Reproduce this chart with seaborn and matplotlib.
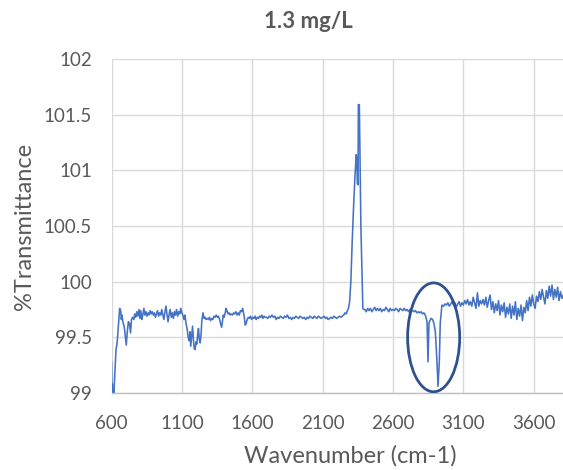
import matplotlib
matplotlib.use("Agg")
import matplotlib.pyplot as plt
from matplotlib.patches import Ellipse
from matplotlib.ticker import FuncFormatter
import seaborn as sns
import pandas as pd

title = "1.3 mg/L"
x_label = "Wavenumber (cm-1)"
y_label = "%Transmittance"
x_ticks = [600, 1100, 1600, 2100, 2600, 3100, 3600]
y_ticks = [99, 99.5, 100, 100.5, 101, 101.5, 102]

wavenumber = [
    600, 603, 606, 609, 613, 617, 625, 632, 640, 650, 658, 665, 670, 675, 680, 690, 697, 705, 712, 720,
    728, 735, 742, 750, 758, 765, 772, 780, 787, 795, 802, 808, 815, 822, 830, 837, 845, 852, 860, 867,
    875, 882, 890, 897, 905, 912, 920, 927, 935, 942, 950, 957, 965, 972, 980, 987, 995, 1002, 1010, 1017,
    1025, 1032, 1040, 1047, 1055, 1062, 1070, 1077, 1085, 1092, 1100, 1107, 1115, 1122, 1130, 1137, 1145, 1152, 1158, 1163,
    1170, 1176, 1182, 1188, 1194, 1200, 1206, 1212, 1218, 1224, 1230, 1236, 1242, 1250, 1258, 1265, 1272, 1280, 1288, 1296,
    1304, 1312, 1320, 1328, 1336, 1344, 1352, 1360, 1368, 1376, 1382, 1388, 1394, 1400, 1408, 1414, 1420, 1428, 1436, 1444,
    1452, 1460, 1468, 1476, 1484, 1492, 1500, 1508, 1516, 1524, 1532, 1538, 1544, 1550, 1556, 1564, 1572, 1580, 1588, 1596,
    1604, 1612, 1620, 1628, 1636, 1644, 1652, 1660, 1668, 1676, 1684, 1692, 1700, 1710, 1720, 1730, 1740, 1750, 1760, 1770,
    1780, 1790, 1800, 1810, 1820, 1830, 1840, 1850, 1860, 1870, 1880, 1890, 1900, 1910, 1920, 1930, 1940, 1950, 1960, 1970,
    1980, 1990, 2000, 2010, 2020, 2030, 2040, 2050, 2060, 2070, 2080, 2090, 2100, 2110, 2120, 2130, 2140, 2150, 2160, 2170,
    2180, 2190, 2200, 2210, 2220, 2230, 2240, 2250, 2260, 2268, 2276, 2284, 2292, 2301, 2310, 2320, 2330, 2339, 2343, 2347,
    2352, 2354, 2361, 2372, 2386, 2393, 2400, 2410, 2420, 2430, 2440, 2450, 2460, 2470, 2480, 2490, 2500, 2510, 2520, 2530,
    2540, 2550, 2560, 2570, 2580, 2590, 2600, 2610, 2620, 2630, 2640, 2650, 2660, 2670, 2680, 2690, 2700, 2710, 2720, 2730,
    2740, 2750, 2760, 2770, 2780, 2790, 2800, 2810, 2820, 2830, 2842, 2849, 2856, 2870, 2882, 2892, 2901, 2913, 2920, 2929,
    2936, 2948, 2960, 2970, 2980, 2990, 3000, 3010, 3020, 3030, 3040, 3050, 3060, 3070, 3080, 3090, 3100, 3110, 3120, 3130,
    3140, 3150, 3160, 3170, 3180, 3190, 3200, 3210, 3220, 3230, 3240, 3250, 3260, 3270, 3280, 3290, 3300, 3310, 3320, 3330,
    3340, 3350, 3360, 3370, 3380, 3390, 3400, 3410, 3420, 3430, 3440, 3450, 3460, 3470, 3480, 3490, 3500, 3510, 3520, 3530,
    3540, 3550, 3560, 3570, 3580, 3590, 3600, 3610, 3620, 3630, 3640, 3650, 3660, 3670, 3680, 3690, 3700, 3710, 3720, 3730,
    3740, 3750, 3760, 3770, 3780, 3790, 3800, 3810, 3820,
]

transmittance = [
    99.28, 99.02, 99.08, 99.00, 99.03, 99.00, 99.20, 99.39, 99.45, 99.62, 99.76, 99.74, 99.66, 99.70, 99.64, 99.60, 99.52, 99.43, 99.55, 99.64,
    99.62, 99.54, 99.66, 99.68, 99.66, 99.71, 99.68, 99.73, 99.69, 99.75, 99.67, 99.74, 99.66, 99.70, 99.76, 99.70, 99.73, 99.69, 99.72, 99.70,
    99.74, 99.71, 99.73, 99.70, 99.72, 99.68, 99.71, 99.74, 99.69, 99.72, 99.70, 99.75, 99.70, 99.66, 99.73, 99.78, 99.70, 99.64, 99.71, 99.75,
    99.68, 99.72, 99.67, 99.73, 99.70, 99.75, 99.69, 99.73, 99.71, 99.76, 99.72, 99.70, 99.66, 99.70, 99.62, 99.58, 99.50, 99.47, 99.55, 99.42,
    99.52, 99.60, 99.48, 99.40, 99.39, 99.46, 99.44, 99.52, 99.58, 99.48, 99.45, 99.52, 99.65, 99.72, 99.67, 99.68, 99.66, 99.67, 99.66, 99.68,
    99.65, 99.67, 99.66, 99.69, 99.68, 99.70, 99.68, 99.69, 99.66, 99.62, 99.59, 99.64, 99.70, 99.68, 99.72, 99.76, 99.74, 99.71, 99.72, 99.70,
    99.71, 99.70, 99.72, 99.71, 99.73, 99.70, 99.72, 99.70, 99.74, 99.73, 99.76, 99.72, 99.68, 99.61, 99.62, 99.66, 99.68, 99.67, 99.69, 99.66,
    99.68, 99.67, 99.69, 99.66, 99.68, 99.67, 99.69, 99.68, 99.70, 99.67, 99.69, 99.68, 99.68, 99.67, 99.69, 99.68, 99.70, 99.68, 99.69, 99.66,
    99.68, 99.67, 99.69, 99.68, 99.67, 99.69, 99.68, 99.70, 99.67, 99.68, 99.66, 99.68, 99.67, 99.69, 99.68, 99.67, 99.69, 99.68, 99.67, 99.68,
    99.66, 99.68, 99.67, 99.69, 99.68, 99.67, 99.69, 99.68, 99.67, 99.69, 99.68, 99.67, 99.68, 99.69, 99.67, 99.68, 99.66, 99.67, 99.68, 99.67,
    99.69, 99.68, 99.67, 99.68, 99.69, 99.68, 99.69, 99.70, 99.72, 99.71, 99.74, 99.76, 99.82, 100.01, 100.35, 100.67, 100.95, 101.14, 101.10, 100.88,
    100.87, 101.59, 101.59, 100.50, 99.76, 99.75, 99.75, 99.73, 99.76, 99.74, 99.76, 99.73, 99.75, 99.77, 99.74, 99.76, 99.74, 99.76, 99.73, 99.75,
    99.74, 99.77, 99.75, 99.73, 99.76, 99.74, 99.75, 99.74, 99.76, 99.75, 99.73, 99.76, 99.75, 99.74, 99.76, 99.74, 99.75, 99.73, 99.75, 99.74,
    99.74, 99.73, 99.74, 99.72, 99.73, 99.72, 99.73, 99.71, 99.72, 99.70, 99.64, 99.28, 99.63, 99.67, 99.66, 99.62, 99.55, 99.27, 99.06, 99.27,
    99.63, 99.79, 99.78, 99.80, 99.79, 99.81, 99.78, 99.80, 99.82, 99.79, 99.81, 99.77, 99.80, 99.82, 99.78, 99.81, 99.79, 99.83, 99.80, 99.84,
    99.79, 99.82, 99.78, 99.86, 99.81, 99.76, 99.90, 99.78, 99.83, 99.80, 99.84, 99.79, 99.86, 99.77, 99.83, 99.88, 99.75, 99.82, 99.72, 99.80,
    99.74, 99.83, 99.70, 99.79, 99.73, 99.81, 99.68, 99.77, 99.71, 99.80, 99.67, 99.78, 99.70, 99.82, 99.66, 99.76, 99.69, 99.79, 99.65, 99.77,
    99.72, 99.83, 99.74, 99.86, 99.78, 99.88, 99.80, 99.76, 99.87, 99.82, 99.91, 99.84, 99.93, 99.86, 99.80, 99.92, 99.85, 99.96, 99.87, 99.97,
    99.84, 99.93, 99.86, 99.95, 99.83, 99.91, 99.85, 99.88, 99.84,
]

df = pd.DataFrame({"wavenumber": wavenumber, "transmittance": transmittance})

sns.set_theme(style="white")
plt.rcParams["font.family"] = ["Lato", "DejaVu Sans"]

fig = plt.figure(figsize=(5.63, 4.70), dpi=100)
W, H = 563, 470
left_px, right_px, top_px, bottom_px = 111.5, 590, 59, 393
ax = fig.add_axes([left_px / W, 1 - bottom_px / H, (right_px - left_px) / W, (bottom_px - top_px) / H])

sns.lineplot(data=df, x="wavenumber", y="transmittance", ax=ax, sort=False, estimator=None,
             color="#4472C4", linewidth=1.15)

ax.add_patch(Ellipse((2889, 99.50), 370, 0.978, fill=False, edgecolor="#2F528F", linewidth=2.0, zorder=5))

ax.set_xlim(600, 4000)
ax.set_ylim(99, 102)
ax.set_xticks(x_ticks)
ax.set_yticks(y_ticks)
ax.yaxis.set_major_formatter(FuncFormatter(lambda v, p: f"{v:g}"))
ax.grid(True, color="#D9D9D9", linewidth=1.0)
ax.set_axisbelow(True)
for s in ["top", "right", "left"]:
    ax.spines[s].set_visible(False)
ax.spines["bottom"].set_color("#BFBFBF")
ax.spines["bottom"].set_linewidth(1.0)
ax.tick_params(axis="both", length=0, labelsize=13.5, colors="#595959")
ax.tick_params(axis="x", pad=16)
ax.tick_params(axis="y", pad=14)
ax.set_xlabel(x_label, fontsize=17, color="#595959", labelpad=9)
ax.set_ylabel(y_label, fontsize=17, color="#595959", labelpad=6)
fig.text(308 / W, 1 - 22 / H, title, ha="center", va="center", fontsize=16, fontweight="bold", color="#595959")

fig.savefig("out.png", dpi=100)
